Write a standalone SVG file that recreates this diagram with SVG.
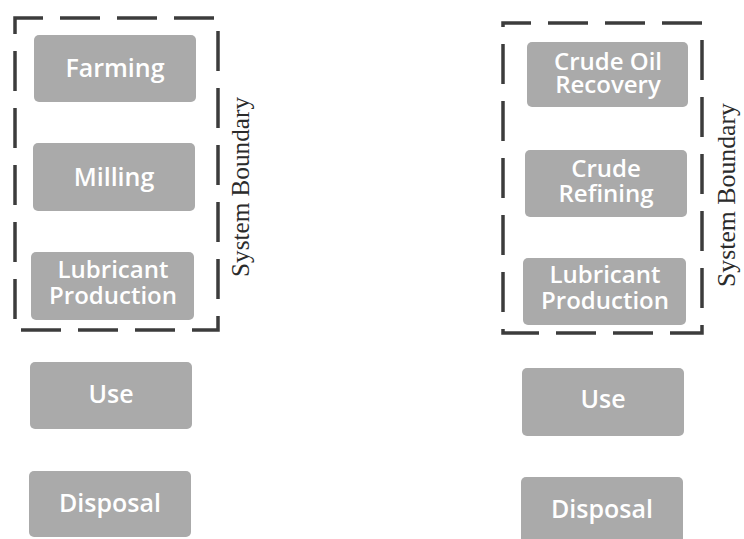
<svg xmlns="http://www.w3.org/2000/svg" width="744" height="539" viewBox="0 0 744 539">
  <style>
    .box { fill: #aaaaaa; }
    .lbl { font-family: "Open Sans", "Liberation Sans", sans-serif; font-size: 25px; font-weight: 600; fill: #ffffff; text-anchor: middle; }
    .two { font-size: 24px; }
    .boundary { fill: none; stroke: #3c3c3c; stroke-width: 3.5; stroke-dasharray: 40 17; }
    .blabel { font-family: "Liberation Serif", "Times New Roman", serif; font-size: 26px; fill: #2b2b2b; text-anchor: middle; }
  </style>
  <rect width="744" height="539" fill="#ffffff"/>

  <!-- bio-based lubricant life cycle -->
  <g id="boundary-bio">
    <rect class="boundary" x="15" y="18" width="203" height="312" stroke-dashoffset="12"/>
    <text class="blabel" transform="translate(249 187) rotate(-90)" textLength="180" lengthAdjust="spacingAndGlyphs">System Boundary</text>
  </g>
  <g id="farming">
    <rect class="box" x="34" y="35" width="162" height="67" rx="5"/>
    <text class="lbl" x="115" y="77">Farming</text>
  </g>
  <g id="milling">
    <rect class="box" x="33" y="143" width="162" height="68" rx="5"/>
    <text class="lbl" x="114" y="186">Milling</text>
  </g>
  <g id="lubricant-production-bio">
    <rect class="box" x="31" y="252" width="163" height="68" rx="5"/>
    <text class="lbl two"><tspan x="113" y="278">Lubricant</tspan><tspan x="113" y="304">Production</tspan></text>
  </g>
  <g id="use-bio">
    <rect class="box" x="30" y="362" width="162" height="67" rx="5"/>
    <text class="lbl" x="111" y="403">Use</text>
  </g>
  <g id="disposal-bio">
    <rect class="box" x="29" y="471" width="162" height="66" rx="5"/>
    <text class="lbl" x="110" y="512">Disposal</text>
  </g>

  <!-- mineral lubricant life cycle -->
  <g id="boundary-mineral">
    <rect class="boundary" x="503" y="23" width="199" height="310" stroke-dashoffset="12"/>
    <text class="blabel" transform="translate(735 195) rotate(-90)" textLength="184" lengthAdjust="spacingAndGlyphs">System Boundary</text>
  </g>
  <g id="crude-oil-recovery">
    <rect class="box" x="527" y="42" width="161" height="65" rx="5"/>
    <text class="lbl two"><tspan x="608" y="70">Crude Oil</tspan><tspan x="608" y="93">Recovery</tspan></text>
  </g>
  <g id="crude-refining">
    <rect class="box" x="525" y="150" width="162" height="67" rx="5"/>
    <text class="lbl two"><tspan x="606" y="177">Crude</tspan><tspan x="606" y="202">Refining</tspan></text>
  </g>
  <g id="lubricant-production-mineral">
    <rect class="box" x="523" y="258" width="163" height="67" rx="5"/>
    <text class="lbl two"><tspan x="605" y="283">Lubricant</tspan><tspan x="605" y="309">Production</tspan></text>
  </g>
  <g id="use-mineral">
    <rect class="box" x="522" y="368" width="162" height="68" rx="5"/>
    <text class="lbl" x="603" y="408">Use</text>
  </g>
  <g id="disposal-mineral">
    <rect class="box" x="521" y="477" width="162" height="66" rx="5"/>
    <text class="lbl" x="602" y="518">Disposal</text>
  </g>
</svg>
